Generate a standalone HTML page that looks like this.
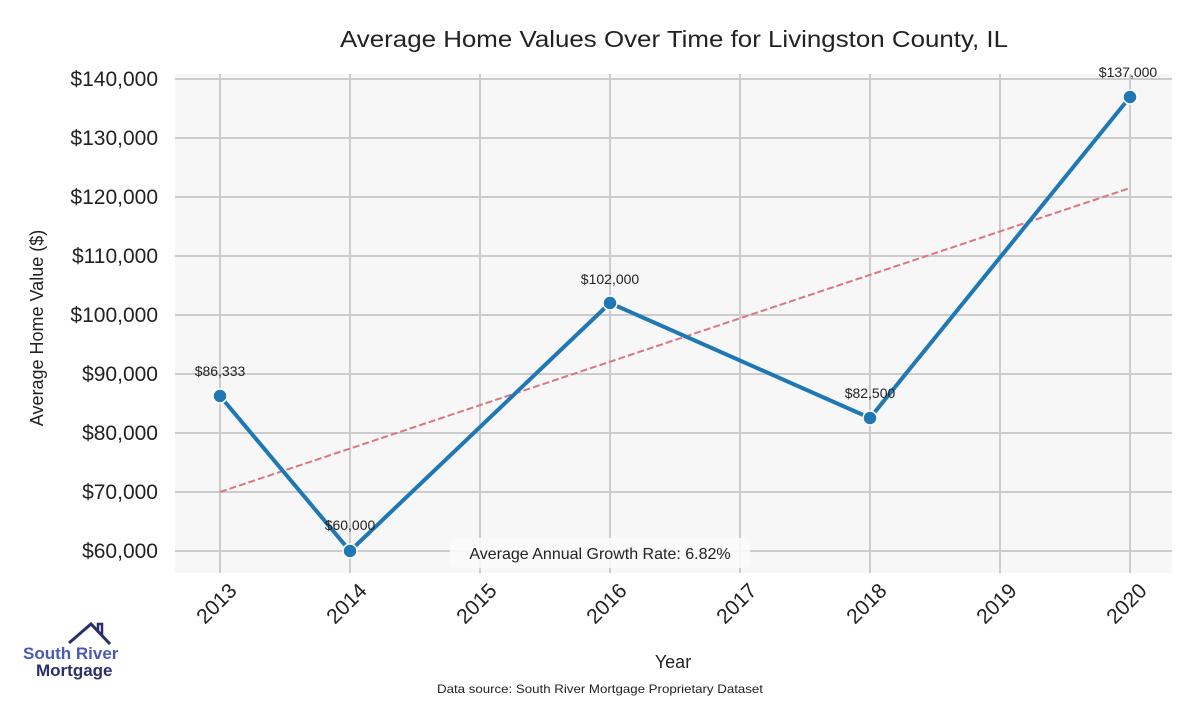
<!DOCTYPE html>
<html><head><style>body{margin:0;background:#fff}</style></head><body>
<svg width="1200" height="700" xmlns="http://www.w3.org/2000/svg" font-family="Liberation Sans, sans-serif">
<rect x="175" y="74" width="997" height="499" fill="#f7f7f7"/>
<g stroke="#cccccc" stroke-width="2">
<line x1="175" x2="1172" y1="79" y2="79"/><line x1="175" x2="1172" y1="138" y2="138"/><line x1="175" x2="1172" y1="197" y2="197"/><line x1="175" x2="1172" y1="256" y2="256"/><line x1="175" x2="1172" y1="315" y2="315"/><line x1="175" x2="1172" y1="374" y2="374"/><line x1="175" x2="1172" y1="433" y2="433"/><line x1="175" x2="1172" y1="492" y2="492"/><line x1="175" x2="1172" y1="551" y2="551"/>
<line x1="220" x2="220" y1="74" y2="573"/><line x1="350" x2="350" y1="74" y2="573"/><line x1="480" x2="480" y1="74" y2="573"/><line x1="610" x2="610" y1="74" y2="573"/><line x1="740" x2="740" y1="74" y2="573"/><line x1="870" x2="870" y1="74" y2="573"/><line x1="1000" x2="1000" y1="74" y2="573"/><line x1="1130" x2="1130" y1="74" y2="573"/>
</g>
<g font-size="21" fill="#222" text-anchor="end">
<text x="158" y="86">$140,000</text><text x="158" y="145">$130,000</text><text x="158" y="204">$120,000</text><text x="158" y="263">$110,000</text><text x="158" y="322">$100,000</text><text x="158" y="381">$90,000</text><text x="158" y="440">$80,000</text><text x="158" y="499">$70,000</text><text x="158" y="558">$60,000</text>
</g>
<g font-size="21" fill="#222" text-anchor="end">
<text transform="translate(238,592) rotate(-45)">2013</text><text transform="translate(368,592) rotate(-45)">2014</text><text transform="translate(498,592) rotate(-45)">2015</text><text transform="translate(628,592) rotate(-45)">2016</text><text transform="translate(758,592) rotate(-45)">2017</text><text transform="translate(888,592) rotate(-45)">2018</text><text transform="translate(1018,592) rotate(-45)">2019</text><text transform="translate(1148,592) rotate(-45)">2020</text>
</g>
<text x="340" y="47" font-size="23" textLength="668" lengthAdjust="spacingAndGlyphs" fill="#222">Average Home Values Over Time for Livingston County, IL</text>
<text x="673" y="668" font-size="18" text-anchor="middle" fill="#222">Year</text>
<text transform="translate(43,328) rotate(-90)" font-size="18" text-anchor="middle" fill="#222">Average Home Value ($)</text>
<text x="437" y="693" font-size="12" textLength="326" lengthAdjust="spacingAndGlyphs" fill="#222">Data source: South River Mortgage Proprietary Dataset</text>
<line x1="220" y1="492" x2="1130" y2="188" stroke="#d9787f" stroke-width="2" stroke-dasharray="7,3"/>
<polyline points="220,396 350,551 610,303 870,418 1130,97" fill="none" stroke="#1f77b4" stroke-width="4" stroke-linejoin="round"/>
<g fill="#1f77b4" stroke="#fff" stroke-width="1.5">
<circle cx="220" cy="396" r="7"/><circle cx="350" cy="551" r="7"/><circle cx="610" cy="303" r="7"/><circle cx="870" cy="418" r="7"/><circle cx="1130" cy="97" r="7"/>
</g>
<g font-size="14" fill="#222" text-anchor="middle">
<text x="220" y="376">$86,333</text><text x="350" y="530">$60,000</text><text x="610" y="284">$102,000</text><text x="870" y="398">$82,500</text><text x="1128" y="77">$137,000</text>
</g>
<rect x="450" y="538" width="300" height="30" rx="6" fill="#fafafa" opacity="0.9"/>
<text x="600" y="559" font-size="16" text-anchor="middle" fill="#222">Average Annual Growth Rate: 6.82%</text>
<polyline points="69,643 91,624 110,644" fill="none" stroke="#2a2f6b" stroke-width="3"/>
<polyline points="98,631 98,624 102,624 102,636" fill="none" stroke="#2a2f6b" stroke-width="2.5"/>
<text x="23" y="659" font-size="17" font-weight="bold" fill="#4a5ab0">South River</text>
<text x="36" y="676" font-size="17" font-weight="bold" fill="#2a2f6b">Mortgage</text>
</svg>
</body></html>
